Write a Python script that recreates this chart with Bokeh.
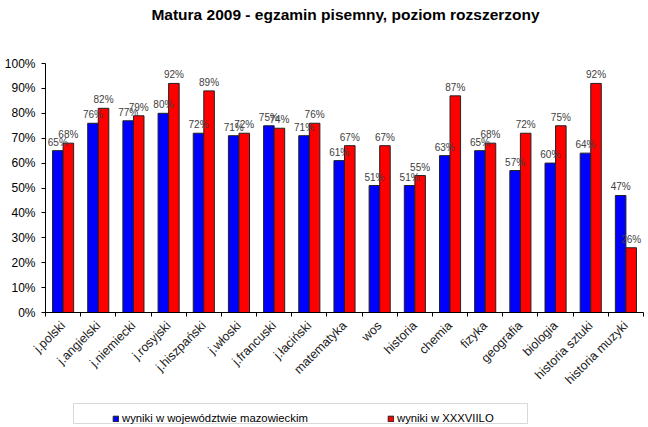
from bokeh.plotting import figure
from bokeh.layouts import column
from bokeh.models import (ColumnDataSource, Range1d, FixedTicker, Label,
                          NumeralTickFormatter, Legend, LegendItem, BoxAnnotation)
from bokeh.transform import dodge
from bokeh.core.properties import value
from bokeh.embed import file_html
from bokeh.resources import INLINE
import math

categories = ["j.polski", "j.angielski", "j.niemiecki", "j.rosyjski", "j.hiszpański", "j.włoski",
              "j.francuski", "j.łaciński", "matematyka", "wos", "historia", "chemia", "fizyka",
              "geografia", "biologia", "historia sztuki", "historia muzyki"]
mazowieckie = [65, 76, 77, 80, 72, 71, 75, 71, 61, 51, 51, 63, 65, 57, 60, 64, 47]
xxxviii_lo = [68, 82, 79, 92, 89, 72, 74, 76, 67, 67, 55, 87, 68, 72, 75, 92, 26]
y_ticks = [0, 10, 20, 30, 40, 50, 60, 70, 80, 90, 100]
series_names = ["wyniki w województwie mazowieckim", "wyniki w XXXVIILO"]
series_colors = ["#0000FF", "#FF0000"]
title_text = "Matura 2009 - egzamin pisemny, poziom rozszerzony"

FONT = "Liberation Sans"
n = len(categories)
centers = [i + 0.5 for i in range(n)]

# strips share the chart's frame alignment: page x 45..643
FRAME_L, FRAME_R = 45, 643


def strip(h):
    f = figure(width=648, height=h, x_range=Range1d(FRAME_L, FRAME_R), y_range=Range1d(0, h),
               output_backend="svg", toolbar_location=None,
               x_axis_location=None, y_axis_location=None, min_border=0)
    f.background_fill_color = "white"
    f.border_fill_color = "white"
    f.outline_line_color = None
    f.xgrid.visible = False
    f.ygrid.visible = False
    return f


# title strip
tf = strip(30)
tf.add_layout(Label(x=345, y=16, text=title_text, text_align="center",
                    text_baseline="alphabetic", text_font=FONT, text_font_size="15.5px",
                    text_font_style="bold", text_color="black"))

src = ColumnDataSource(dict(
    pos=centers,
    a=[v / 100 for v in mazowieckie],
    b=[v / 100 for v in xxxviii_lo],
    la=[f"{v}%" for v in mazowieckie],
    lb=[f"{v}%" for v in xxxviii_lo],
))

p = figure(width=648, height=370, x_range=Range1d(0, n),
           y_range=Range1d(0, 1), output_backend="svg", toolbar_location=None,
           min_border_left=FRAME_L, min_border_right=648 - FRAME_R,
           min_border_top=33, min_border_bottom=88)
p.background_fill_color = "white"
p.border_fill_color = "white"
p.outline_line_color = None
p.xgrid.visible = False
p.ygrid.visible = False

ya = p.yaxis[0]
ya.ticker = FixedTicker(ticks=[t / 100 for t in y_ticks])
ya.formatter = NumeralTickFormatter(format="0%")
ya.major_label_text_font = FONT
ya.major_label_text_font_size = "12px"
ya.major_label_text_color = "black"
ya.major_label_standoff = 6
ya.major_tick_out = 4
ya.major_tick_in = 0
ya.minor_tick_line_color = None
ya.axis_line_color = "black"
ya.major_tick_line_color = "black"

xa = p.xaxis[0]
xa.ticker = FixedTicker(ticks=centers, minor_ticks=list(range(n + 1)))
xa.major_label_overrides = {c: name for c, name in zip(centers, categories)}
xa.major_tick_line_color = None
xa.major_tick_out = 0
xa.major_tick_in = 0
xa.minor_tick_out = 4
xa.minor_tick_in = 0
xa.minor_tick_line_color = "black"
xa.axis_line_color = "black"
xa.major_label_orientation = math.pi / 4
xa.major_label_text_font = FONT
xa.major_label_text_font_size = "12.5px"
xa.major_label_text_color = "#222222"
xa.major_label_standoff = 7

p.vbar(x=dodge("pos", -0.15), top="a", width=0.3, source=src,
       fill_color=series_colors[0], line_color="#222222", line_width=1)
p.vbar(x=dodge("pos", 0.15), top="b", width=0.3, source=src,
       fill_color=series_colors[1], line_color="#222222", line_width=1)

p.text(x=dodge("pos", -0.15), y="a", text="la", source=src,
       text_align="center", text_baseline="bottom", y_offset=-3,
       text_font=value(FONT), text_font_size="10px", text_color="#404040")
p.text(x=dodge("pos", 0.15), y="b", text="lb", source=src,
       text_align="center", text_baseline="bottom", y_offset=-3,
       text_font=value(FONT), text_font_size="10px", text_color="#404040")

# legend strip below the chart (swatch renderers are zero-size, off-range)
leg = strip(27)
ga = leg.vbar(x=[0], top=[0], bottom=[0], width=0, fill_color=series_colors[0],
              line_color="#222222")
gb = leg.vbar(x=[0], top=[0], bottom=[0], width=0, fill_color=series_colors[1],
              line_color="#222222")
leg.add_layout(BoxAnnotation(left=73, right=527, bottom=4, top=24, fill_alpha=0,
                             line_color="#808080", line_width=1))
legend = Legend(items=[LegendItem(label=series_names[0], renderers=[ga]),
                       LegendItem(label=series_names[1], renderers=[gb])],
                orientation="horizontal", location=(112 - FRAME_L, 3),
                glyph_width=7, glyph_height=7, label_standoff=3, label_width=255,
                spacing=10, padding=4, margin=0,
                label_text_font=FONT, label_text_font_size="11.3px", label_text_color="black",
                border_line_color=None, background_fill_alpha=0)
leg.add_layout(legend, "center")

layout = column(tf, p, leg, spacing=0)
open("out.html", "w").write(file_html(layout, INLINE))
